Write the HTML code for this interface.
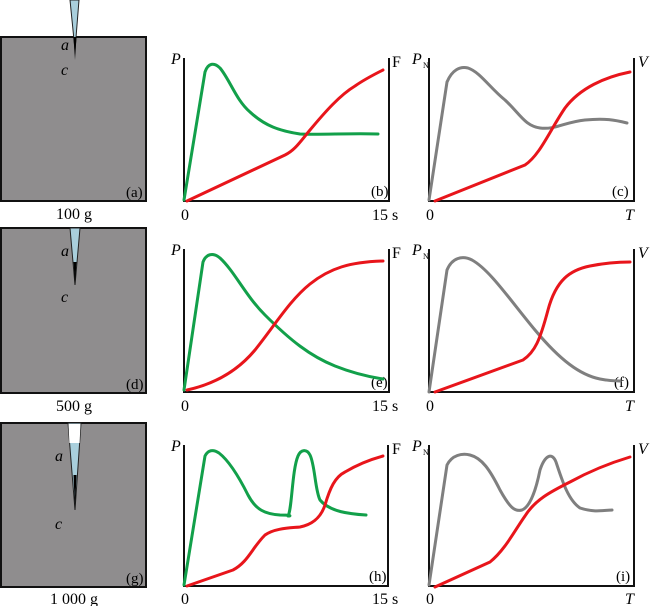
<!DOCTYPE html>
<html><head><style>body{margin:0;background:#fff}svg{display:block}</style></head><body>
<svg width="650" height="606" viewBox="0 0 650 606" xmlns="http://www.w3.org/2000/svg" font-family="Liberation Serif, serif" font-size="16">
<defs>
<linearGradient id="cr" x1="0" y1="0" x2="0" y2="1"><stop offset="0" stop-color="#000"/><stop offset="0.4" stop-color="#ccc"/><stop offset="1" stop-color="#555"/></linearGradient>
</defs>
<g stroke="#111" stroke-width="2" fill="#8f8d8e">
<rect x="1" y="37" width="145" height="164"/>
<rect x="1" y="228" width="145" height="165"/>
<rect x="1" y="423" width="145" height="164"/>
</g>
<polygon points="70,0 79,0 75,50" fill="#a9cfdc" stroke="#222" stroke-width="1"/>
<polygon points="73.5,37 76.5,37 75,60" fill="#000"/>
<line x1="75" y1="58" x2="75" y2="89" stroke="url(#cr)" stroke-width="1.2"/>
<text x="61" y="50" font-style="italic">a</text><text x="61" y="75" font-style="italic">c</text>
<polygon points="70,228 80,228 75,285" fill="#a9cfdc" stroke="#222" stroke-width="1"/>
<polygon points="73.5,262 76.5,262 75,285" fill="#000"/>
<line x1="75" y1="283" x2="75" y2="322" stroke="url(#cr)" stroke-width="1.2"/>
<text x="61" y="256" font-style="italic">a</text><text x="61" y="302" font-style="italic">c</text>
<polygon points="68,423 81,423 75,510" fill="#a9cfdc" stroke="#222" stroke-width="1"/>
<polygon points="68.5,424 80.5,424 79.6,443 69.4,443" fill="#fff"/>
<polygon points="73.5,475 76.5,475 75,510" fill="#000"/>
<line x1="75" y1="508" x2="75" y2="575" stroke="url(#cr)" stroke-width="1.2"/>
<text x="55" y="461" font-style="italic">a</text><text x="55" y="529" font-style="italic">c</text>
<g font-size="15">
<text x="126" y="197">(a)</text><text x="126" y="389">(d)</text><text x="126" y="583">(g)</text>
</g>
<g font-size="16">
<text x="74" y="219" text-anchor="middle">100 g</text>
<text x="74" y="411" text-anchor="middle">500 g</text>
<text x="74" y="604" text-anchor="middle">1 000 g</text>
</g>
<g stroke="#111" stroke-width="2" fill="none">
<path d="M184,58V201H389V58"/><path d="M429,58V201H634V58"/>
<path d="M184,249V392H389V249"/><path d="M429,249V392H634V249"/>
<path d="M184,445V586H388V445"/><path d="M429,445V586H634V445"/>
</g>
<g font-size="16">
<text x="171" y="64" font-style="italic">P</text><text x="392" y="67">F</text>
<text x="181" y="220">0</text><text x="372" y="220">15 s</text><text x="371" y="196" font-size="15">(b)</text>
<text x="412" y="64" font-style="italic">P</text><text x="423" y="68" font-size="8">N</text><text x="638" y="67" font-style="italic">V</text>
<text x="426" y="220">0</text><text x="625" y="220" font-style="italic">T</text><text x="612" y="196" font-size="15">(c)</text>
<text x="171" y="255" font-style="italic">P</text><text x="392" y="258">F</text>
<text x="181" y="411">0</text><text x="372" y="411">15 s</text><text x="371" y="387" font-size="15">(e)</text>
<text x="412" y="255" font-style="italic">P</text><text x="423" y="259" font-size="8">N</text><text x="638" y="258" font-style="italic">V</text>
<text x="426" y="411">0</text><text x="625" y="411" font-style="italic">T</text><text x="614" y="387" font-size="15">(f)</text>
<text x="171" y="451" font-style="italic">P</text><text x="392" y="454">F</text>
<text x="181" y="604">0</text><text x="372" y="604">15 s</text><text x="369" y="581" font-size="15">(h)</text>
<text x="412" y="451" font-style="italic">P</text><text x="423" y="455" font-size="8">N</text><text x="638" y="454" font-style="italic">V</text>
<text x="426" y="604">0</text><text x="625" y="604" font-style="italic">T</text><text x="616" y="581" font-size="15">(i)</text>
</g>
<g fill="none" stroke-width="3" stroke-linecap="round" stroke-linejoin="round">
<path stroke="#12a04a" d="M184,200L205,72C208,63 214,62 220,68C230,80 236,100 250,112C265,126 280,131 300,134C320,135 350,133 378,134"/>
<path stroke="#e8151b" d="M187,201L285,155C295,150 300,142 310,130C325,112 340,95 355,86C365,79 375,74 383,70"/>
<path stroke="#7f7f7f" d="M429,200L447,82C452,70 460,66 468,68C480,72 490,88 505,100C520,114 525,126 540,128C555,130 565,122 585,120C605,118 615,120 627,123"/>
<path stroke="#e8151b" d="M435,201L525,165C540,155 550,130 565,108C580,88 605,77 630,72"/>
<path stroke="#12a04a" d="M184,390L203,262C206,254 213,252 220,258C235,272 245,295 265,315C290,340 310,356 335,366C355,374 370,377 383,379"/>
<path stroke="#e8151b" d="M187,390C210,385 235,374 255,350C275,325 290,300 310,284C330,268 350,262 383,261"/>
<path stroke="#7f7f7f" d="M429,392L447,270C452,258 462,255 472,260C490,270 510,300 535,330C560,360 580,375 600,379C610,381 615,381 620,381"/>
<path stroke="#e8151b" d="M435,392L523,360C535,352 540,340 548,310C556,280 570,270 590,266C605,263 618,262 630,262"/>
<path stroke="#12a04a" d="M184,585L205,456C208,450 213,449 219,453C228,460 238,475 248,495C256,510 265,514 280,515C290,515 292,516 288,516C292,510 292,470 298,456C301,449 307,449 310,455C315,465 315,490 320,500C330,512 350,514 366,515"/>
<path stroke="#e8151b" d="M187,586L233,570C248,562 252,548 265,535C275,528 290,528 300,527C310,525 320,520 325,505C330,488 335,477 345,472C360,463 372,459 383,456"/>
<path stroke="#7f7f7f" d="M429,585L447,465C452,455 462,453 470,455C482,458 490,470 500,490C510,508 515,512 522,510C530,507 536,490 540,470C545,455 552,452 556,462C562,480 568,500 580,508C592,512 600,511 612,510"/>
<path stroke="#e8151b" d="M435,587L490,562C505,550 515,530 525,516C535,500 550,492 570,482C590,471 610,463 630,457"/>
</g>
</svg>
</body></html>
